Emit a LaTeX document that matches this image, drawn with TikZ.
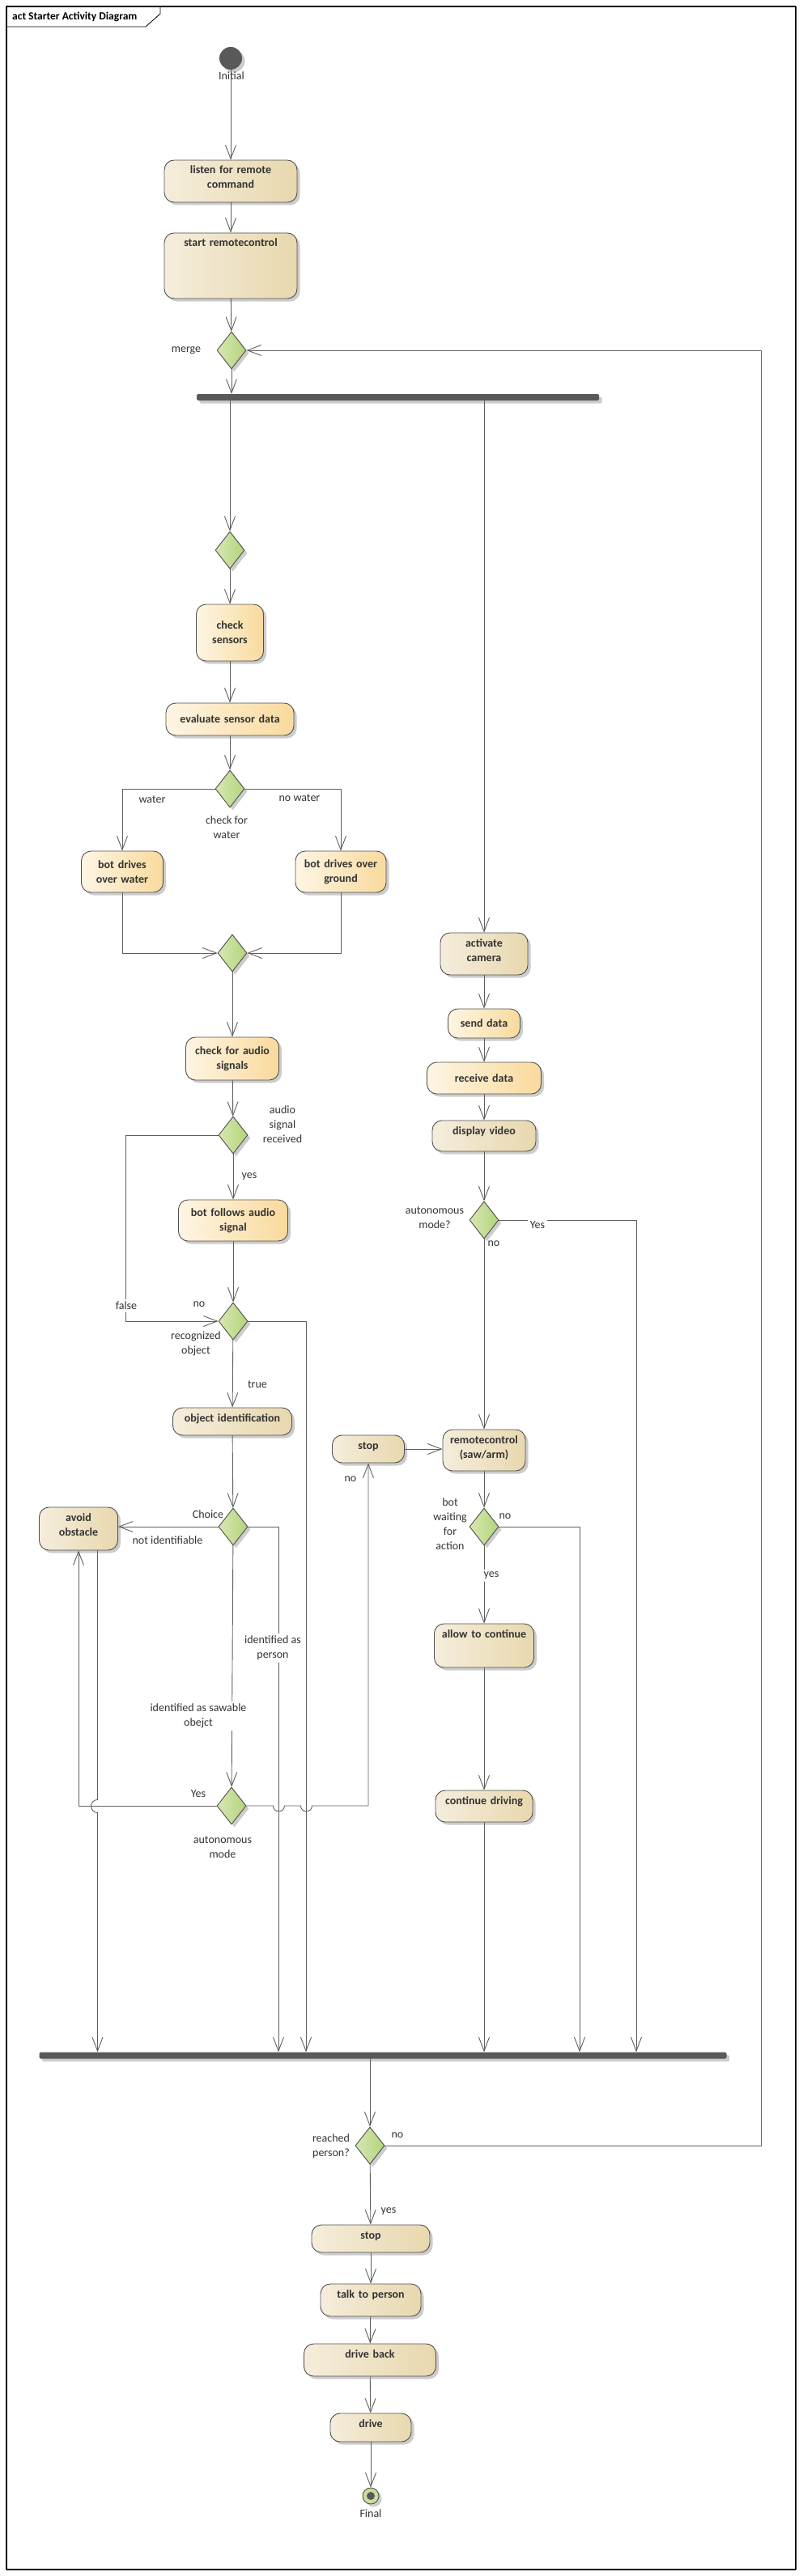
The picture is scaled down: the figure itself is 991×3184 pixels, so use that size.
\documentclass[tikz,border=0pt]{standalone}
\usepackage{fontspec}
\setmainfont{Carlito}
\usepackage{tikz}
\usetikzlibrary{arrows.meta,positioning,shadows,shapes.geometric}
\definecolor{actline}{HTML}{5E5E5E}
\definecolor{actborder}{HTML}{4F4F4F}
\definecolor{acttext}{HTML}{333333}
\definecolor{actbeigeL}{HTML}{F5EDDC}
\definecolor{actbeigeR}{HTML}{E8D8AE}
\definecolor{actorangeL}{HTML}{FEF5E4}
\definecolor{actorangeR}{HTML}{F9DA9D}
\definecolor{actgreenL}{HTML}{D6E7B3}
\definecolor{actgreenR}{HTML}{B4D47A}
\definecolor{actbar}{HTML}{595959}
\tikzset{
  every picture/.append style={line cap=round,line join=round},
  act shadow/.style={drop shadow={shadow xshift=3.5pt,shadow yshift=-3.5pt,fill=black!20,opacity=1}},
  act box/.style={draw=actborder,line width=0.9pt,rounded corners=12pt,act shadow,
    align=center,text=acttext,inner xsep=2pt,font=\bfseries\fontsize{14}{18}\selectfont},
  act action/.style 2 args={act box,left color=actorangeL,right color=actorangeR,
    text width=#1pt-4pt,minimum height=#2pt},
  act activity/.style 2 args={act box,left color=actbeigeL,right color=actbeigeR,
    text width=#1pt-4pt,inner ysep=0pt,text height=17pt,text depth=#2pt-17pt},
  act decision/.style={diamond,draw=actborder,line width=0.9pt,left color=actgreenL,right color=actgreenR,
    minimum width=36pt,minimum height=46pt,inner sep=0pt,act shadow},
  act bar/.style={rectangle,fill=actbar,rounded corners=1.5pt,inner sep=0pt,minimum height=8pt,act shadow},
  act initial/.style={circle,fill=actbar,minimum size=28pt,inner sep=0pt,act shadow},
  act final/.style={circle,draw=actborder,line width=0.9pt,fill=actgreenL!60!actgreenR,minimum size=20pt,inner sep=0pt,act shadow},
  act flow/.style={draw=actline,line width=0.9pt,-{Straight Barb[length=17pt,width=13pt]}},
  act note/.style={font=\fontsize{14}{18}\selectfont,text=acttext,align=center,inner sep=1pt},
  act gap/.style={act note,fill=white,inner sep=3pt}
}
\begin{document}
\begin{tikzpicture}[x=1pt,y=-1pt]
\useasboundingbox (0,0) rectangle (991,3184);
\draw[line width=1.1pt] (8,8) rectangle (983,3176);
\draw[line width=0.8pt] (8,33) -- (180,33) -- (198,17) -- (198,8);
\node[anchor=west,font=\bfseries\fontsize{13.5}{16}\selectfont,inner sep=0pt] (title) at (15,21) {act Starter Activity Diagram};

\node[act initial] (init) at (285,72) {};
\node[act activity={164}{52}] (listen) at (285,224) {listen for remote\\command};
\node[act activity={164}{81}] (startrc) at (285,328.5) {start remotecontrol};
\node[act decision] (merge) at (286,433) {};
\node[act bar,minimum width=497pt] (fork) at (491.5,491) {};
\node[act decision] (d2) at (284,680) {};
\node[act action={83}{70}] (checksens) at (284,782) {check\\sensors};
\node[act action={158}{40}] (evaluate) at (284,889) {evaluate sensor data};
\node[act decision] (waterdec) at (284,975) {};
\node[act action={101}{51}] (water) at (151,1077.5) {bot drives\\over water};
\node[act action={112}{51}] (ground) at (421,1077.5) {bot drives over\\ground};
\node[act decision] (mergew) at (287,1178) {};
\node[act action={115}{53}] (audio) at (287,1308.5) {check for audio\\signals};
\node[act decision] (audiodec) at (288,1403) {};
\node[act action={135}{51}] (follow) at (288,1508.5) {bot follows audio\\signal};
\node[act decision] (recog) at (288,1633) {};
\node[act activity={147}{34}] (objid) at (287,1757) {object identification};
\node[act decision] (choice) at (288,1887) {};
\node[act activity={97}{53}] (avoid) at (97,1889.5) {avoid\\obstacle};
\node[act decision] (automode) at (286,2232) {};
\node[act activity={89}{34}] (stopA) at (455,1791) {stop};
\node[act activity={108}{52}] (camera) at (598,1179) {activate\\camera};
\node[act action={89}{36}] (senddata) at (598,1265) {send data};
\node[act action={141}{39}] (recvdata) at (598,1332.5) {receive data};
\node[act activity={128}{38}] (video) at (598,1404) {display video};
\node[act decision] (autoq) at (598,1508) {};
\node[act activity={102}{51}] (rc) at (598,1792.5) {remotecontrol\\(saw/arm)};
\node[act decision] (botwait) at (598,1887) {};
\node[act activity={123}{54}] (allow) at (598,2034) {allow to continue};
\node[act activity={120}{39}] (contdrive) at (598,2232.5) {continue driving};
\node[act bar,minimum width=849pt] (join) at (473,2540.5) {};
\node[act decision] (reached) at (457,2652) {};
\node[act activity={146}{34}] (stopB) at (458,2767) {stop};
\node[act activity={124}{40}] (talk) at (458,2843) {talk to person};
\node[act activity={163}{40}] (driveback) at (457,2917) {drive back};
\node[act activity={100}{35}] (drive) at (458,3000.5) {drive};
\node[act final] (final) at (458,3085) {};
\fill[actbar] (final) circle (5pt);

\draw[act flow] (init) -- (listen);
\draw[act flow] (listen) -- (startrc);
\draw[act flow] (startrc) -- (merge);
\draw[act flow] (merge) -- (merge |- fork.north);
\draw[act flow] (d2 |- fork.south) -- (d2);
\draw[act flow] (camera |- fork.south) -- (camera);
\draw[act flow] (d2) -- (checksens);
\draw[act flow] (checksens) -- (evaluate);
\draw[act flow] (evaluate) -- (waterdec);
\draw[act flow] (waterdec) -| (water);
\draw[act flow] (waterdec) -| (ground);
\draw[act flow] (water) |- (mergew);
\draw[act flow] (ground) |- (mergew);
\draw[act flow] (mergew) -- (audio);
\draw[act flow] (audio) -- (audiodec);
\draw[act flow] (audiodec) -- (follow);
\draw[act flow] (audiodec.west) -- ++(-114,0) |- (recog.west);
\draw[act flow] (follow) -- (recog);
\draw[act flow] (recog) -- (objid);
\draw[act flow] (recog.east) -| (378,0 |- join.north);
\draw[act flow] (objid) -- (choice);
\draw[act flow] (choice.west) -- (choice.west -| avoid.east);
\draw[act flow] (choice.east) -| (344,0 |- join.north);
\draw[act flow] (choice) -- (automode);
\draw[act flow] (automode) -| (avoid);
\draw[act flow] (automode.east) -- ++(33,0) arc[start angle=180,end angle=360,radius=7pt]
  -- ++(20,0) arc[start angle=180,end angle=360,radius=7pt] -| (stopA);
\draw[act flow] ([xshift=23.5pt]avoid.south) -- ++(0,308) arc[start angle=90,end angle=270,radius=8pt]
  -- (120.5,0 |- join.north);
\draw[act flow] (camera) -- (senddata);
\draw[act flow] (senddata) -- (recvdata);
\draw[act flow] (recvdata) -- (video);
\draw[act flow] (video) -- (autoq);
\draw[act flow] (autoq) -- (rc);
\draw[act flow] (autoq.east) -| (786,0 |- join.north);
\draw[act flow] (stopA.east) -- (stopA.east -| rc.west);
\draw[act flow] (rc) -- (botwait);
\draw[act flow] (botwait) -- (allow);
\draw[act flow] (botwait.east) -| (716,0 |- join.north);
\draw[act flow] (allow) -- (contdrive);
\draw[act flow] (contdrive) -- (contdrive |- join.north);
\draw[act flow] (reached |- join.south) -- (reached);
\draw[act flow] (reached) -- (stopB);
\draw[act flow] (reached.east) -- (940,0 |- reached.east) |- (merge.east);
\draw[act flow] (stopB) -- (talk);
\draw[act flow] (talk) -- (driveback);
\draw[act flow] (driveback) -- (drive);
\draw[act flow] (drive) -- (final);

\node[act note] (lInitial) at (286,94) {Initial};
\node[act note] (lMerge) at (230,433) {merge};
\node[act note] (lWater) at (188,988) {water};
\node[act note] (lNoWater) at (370,986) {no water};
\node[act note] (lCheckWater) at (280,1023) {check for\\water};
\node[act note] (lAudioRec) at (349,1390) {audio\\signal\\received};
\node[act note] (lYesA) at (308,1454) {yes};
\node[act gap] (lFalse) at (156,1614) {false};
\node[act note] (lNoA) at (246,1612) {no};
\node[act note] (lRecog) at (242,1661) {recognized\\object};
\node[act note] (lTrue) at (318,1711) {true};
\node[act note] (lAutoQ) at (537,1505) {autonomous\\mode?};
\node[act gap] (lYesQ) at (664,1514) {Yes};
\node[act note] (lNoQ) at (610,1537) {no};
\node[act note] (lChoice) at (257,1872) {Choice};
\node[act note] (lNotId) at (207,1904) {not identifiable};
\node[act gap] (lPerson) at (337,2037) {identified as\\person};
\node[act gap] (lSawable) at (245,2121) {identified as sawable\\obejct};
\node[act note] (lYesM) at (245,2217) {Yes};
\node[act note] (lAutoM) at (275,2283) {autonomous\\mode};
\node[act note] (lNoStop) at (433,1828) {no};
\node[act note] (lWaiting) at (556,1883.5) {bot\\waiting\\for\\action};
\node[act note] (lNoW) at (624,1874) {no};
\node[act gap] (lYesW) at (607,1947) {yes};
\node[act note] (lReached) at (409,2653) {reached\\person?};
\node[act note] (lNoR) at (491,2639) {no};
\node[act note] (lYesR) at (480,2733) {yes};
\node[act note] (lFinal) at (458,3107) {Final};
\end{tikzpicture}
\end{document}
